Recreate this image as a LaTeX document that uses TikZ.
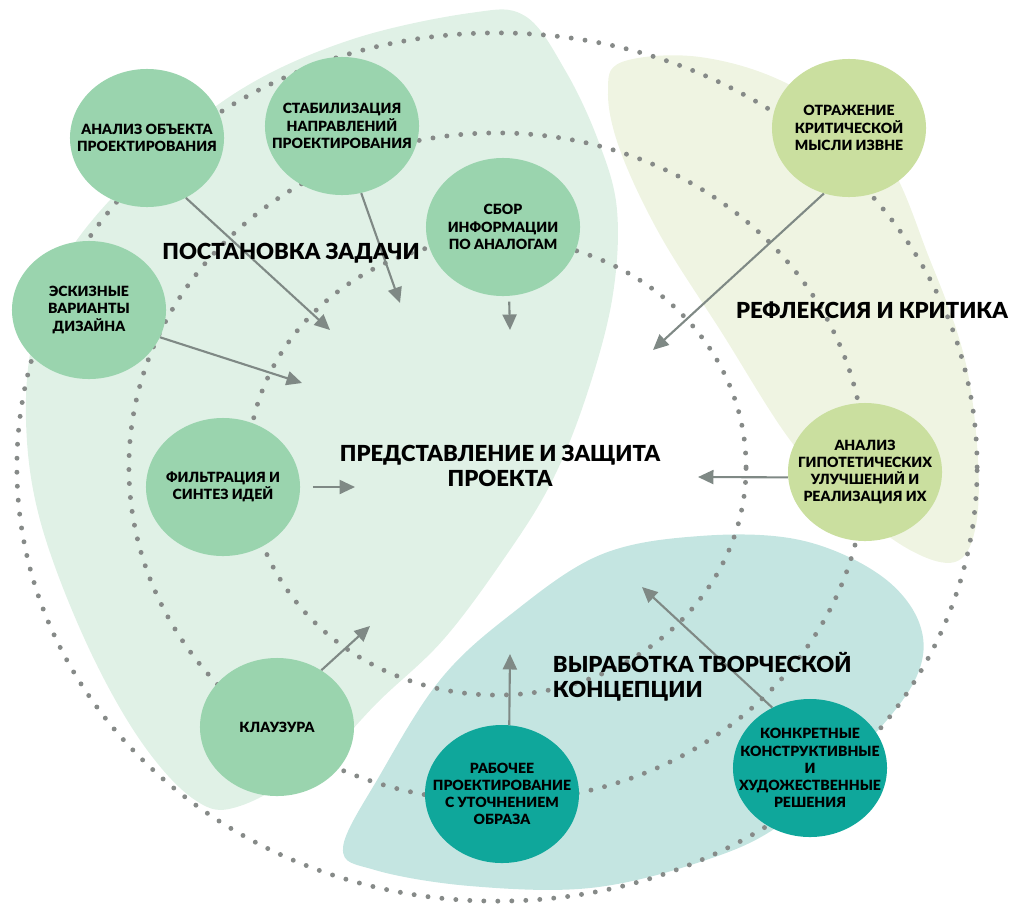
\documentclass[tikz,border=0pt]{standalone}
\usepackage{fontspec}
\setmainfont{Lato}[BoldFont={Lato Black}]
\usetikzlibrary{shapes.geometric,arrows.meta}
\definecolor{paleGreen}{HTML}{E0F1E6}
\definecolor{midGreen}{HTML}{9AD4AE}
\definecolor{paleOlive}{HTML}{EFF4E2}
\definecolor{midOlive}{HTML}{CADF9F}
\definecolor{paleTeal}{HTML}{C4E5E1}
\definecolor{deepTeal}{HTML}{0FA79B}
\definecolor{dotGray}{HTML}{868A88}
\definecolor{arrGray}{HTML}{7F8985}
\tikzset{
  bub/.style={ellipse, minimum width=3.85cm, minimum height=3.45cm, inner xsep=-0.6cm, inner ysep=-0.3cm,
    align=center, font=\fontsize{10}{12.2}\selectfont\bfseries},
  dots/.style={dotGray, line width=3.5pt, line cap=round, dash pattern=on 0pt off 0.35cm},
  arr/.style={arrGray, line width=1.5pt, -{Triangle[length=11pt,width=10pt]}},
  stage/.style={font=\fontsize{15.7}{17.8}\selectfont\bfseries, align=center}
}
\begin{document}
\begin{tikzpicture}[x=0.025cm,y=-0.025cm]
\useasboundingbox (0,0) rectangle (1011,908);
\fill[paleGreen] plot[smooth cycle, tension=0.6] coordinates {(470,13) (525,16) (565,70) (598,140) (617,210) (612,300) (585,400) (550,485) (503,560) (443,640) (380,700) (320,760) (240,806) (195,800) (140,740) (85,640) (40,520) (26,420) (35,330) (70,250) (140,170) (240,90) (350,40)};
\fill[paleOlive] plot[smooth cycle, tension=0.6] coordinates {(622,62) (700,57) (790,85) (880,150) (930,260) (965,360) (978,460) (975,530) (955,562) (910,550) (850,505) (790,440) (722,333) (660,235) (620,150) (608,92)};
\fill[paleTeal] plot[smooth cycle, tension=0.6] coordinates {(600,555) (700,536) (800,540) (880,575) (920,625) (915,680) (860,750) (780,825) (700,862) (590,888) (470,886) (375,870) (343,848) (380,775) (440,680) (510,615)};
\draw[dots] (497,467) ellipse [x radius=12cm, y radius=10.85cm];
\draw[dots] (497,467) ellipse [x radius=9.2cm, y radius=8.35cm];
\draw[dots] (497,467) ellipse [x radius=6.225cm, y radius=5.7cm];
\coordinate (tA) at (330,330);
\coordinate (tB) at (400,303);
\coordinate (tC) at (510,330);
\coordinate (tD) at (302,383);
\coordinate (tE) at (653,350);
\coordinate (tF) at (698,477);
\coordinate (tG) at (355,487);
\coordinate (tH) at (370,626);
\coordinate (tI) at (510,654);
\coordinate (tJ) at (642,587);
\node[bub, fill=midGreen] (analiz) at (147,138) {АНАЛИЗ ОБЪЕКТА\\ПРОЕКТИРОВАНИЯ};
\node[bub, fill=midGreen] (stab) at (342,126) {СТАБИЛИЗАЦИЯ\\НАПРАВЛЕНИЙ\\ПРОЕКТИРОВАНИЯ};
\node[bub, fill=midGreen] (sbor) at (503,227) {СБОР\\ИНФОРМАЦИИ\\ПО АНАЛОГАМ};
\node[bub, fill=midGreen] (eskiz) at (89,310) {ЭСКИЗНЫЕ\\ВАРИАНТЫ\\ДИЗАЙНА};
\node[bub, fill=midGreen] (filtr) at (223,487) {ФИЛЬТРАЦИЯ И\\СИНТЕЗ ИДЕЙ};
\node[bub, fill=midGreen] (klauz) at (277,727) {КЛАУЗУРА};
\node[bub, fill=deepTeal] (rabot) at (502,794) {РАБОЧЕЕ\\ПРОЕКТИРОВАНИЕ\\С УТОЧНЕНИЕМ\\ОБРАЗА};
\node[bub, fill=deepTeal] (konkr) at (810,768) {КОНКРЕТНЫЕ\\КОНСТРУКТИВНЫЕ\\И\\ХУДОЖЕСТВЕННЫЕ\\РЕШЕНИЯ};
\node[bub, fill=midOlive] (otraz) at (849,128) {ОТРАЖЕНИЕ\\КРИТИЧЕСКОЙ\\МЫСЛИ ИЗВНЕ};
\node[bub, fill=midOlive] (gipot) at (865,472) {АНАЛИЗ\\ГИПОТЕТИЧЕСКИХ\\УЛУЧШЕНИЙ И\\РЕАЛИЗАЦИЯ ИХ};
\draw[arr] (analiz.-57) -- (tA);
\draw[arr] (stab.-74) -- (tB);
\draw[arr, shorten <=4pt] (sbor.-85) -- (tC);
\draw[arr] (eskiz.-21) -- (tD);
\draw[arr] (otraz.-111) -- (tE);
\draw[arr] (gipot.184) -- (tF);
\draw[arr, shorten <=9pt] (filtr.0) -- (tG);
\draw[arr] (klauz.52) -- (tH);
\draw[arr] (rabot.84) -- (tI);
\draw[arr] (konkr.122) -- (tJ);
\node[stage] (postan) at (291,253) {ПОСТАНОВКА ЗАДАЧИ};
\node[stage] (predst) at (500,466) {ПРЕДСТАВЛЕНИЕ И ЗАЩИТА\\ПРОЕКТА};
\node[stage] (reflek) at (872,310) {РЕФЛЕКСИЯ И КРИТИКА};
\node[stage, align=left, anchor=west] (vyrab) at (548,677) {ВЫРАБОТКА ТВОРЧЕСКОЙ\\КОНЦЕПЦИИ};
\end{tikzpicture}
\end{document}
